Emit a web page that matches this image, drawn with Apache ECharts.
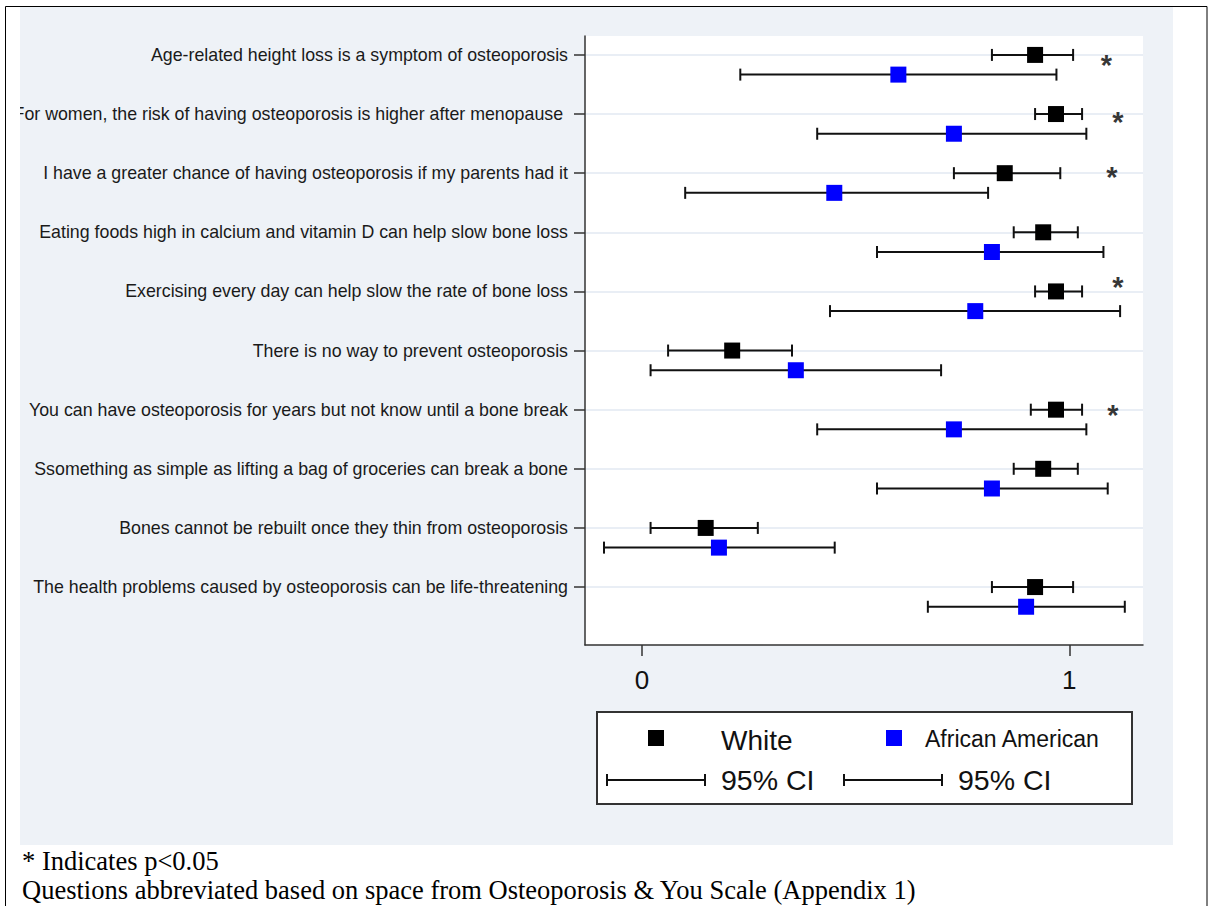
<!DOCTYPE html>
<html>
<head>
<meta charset="utf-8">
<style>
html, body { margin: 0; padding: 0; background: #fff; }
#chart { width: 1209px; height: 906px; }
</style>
<script src="https://cdn.jsdelivr.net/npm/echarts@6/dist/echarts.min.js"></script>
</head>
<body>
<div id="chart"></div>
<script>
// questions, top to bottom
const questions = [
    'Age-related height loss is a symptom of osteoporosis',
    'For women, the risk of having osteoporosis is higher after menopause ',
    'I have a greater chance of having osteoporosis if my parents had it',
    'Eating foods high in calcium and vitamin D can help slow bone loss',
    'Exercising every day can help slow the rate of bone loss',
    'There is no way to prevent osteoporosis',
    'You can have osteoporosis for years but not know until a bone break',
    'Ssomething as simple as lifting a bag of groceries can break a bone',
    'Bones cannot be rebuilt once they thin from osteoporosis',
    'The health problems caused by osteoporosis can be life-threatening'
];

const whiteMean = [0.920, 0.969, 0.849, 0.939, 0.969, 0.211, 0.969, 0.939, 0.149, 0.920];
const whiteLow  = [0.819, 0.920, 0.730, 0.870, 0.920, 0.061, 0.910, 0.870, 0.020, 0.819];
const whiteHigh = [1.009, 1.030, 0.979, 1.020, 1.030, 0.351, 1.030, 1.020, 0.271, 1.009];

const aaMean = [0.600, 0.730, 0.450, 0.819, 0.780, 0.360, 0.730, 0.819, 0.180, 0.899];
const aaLow  = [0.230, 0.410, 0.101, 0.550, 0.440, 0.020, 0.410, 0.550, -0.089, 0.669];
const aaHigh = [0.970, 1.040, 0.810, 1.080, 1.119, 0.700, 1.040, 1.090, 0.451, 1.130];

// rows marked p<0.05
const sigRows = [0, 1, 2, 4, 6];
const sigX = [1.087, 1.114, 1.100, 1.114, 1.102];
const sigY = [0.12, 0.08, 0.01, -0.125, 0.04];

const xTicks = [0, 1];
const rowTicks = questions.map((q, i) => i);

const AA_SHIFT = 0.333;
const sans = 'Liberation Sans, Arial, sans-serif';
const serif = 'Liberation Serif, Times New Roman, serif';

const chart = echarts.init(document.getElementById('chart'), null, { renderer: 'svg' });

const whiteCI = whiteMean.map((m, i) => [whiteLow[i], whiteHigh[i], i]);
const aaCI = aaMean.map((m, i) => [aaLow[i], aaHigh[i], i + AA_SHIFT]);

function ciItem(params, api) {
    const y = api.value(2);
    const a = api.coord([api.value(0), y]);
    const b = api.coord([api.value(1), y]);
    const h = 6;
    const st = { stroke: '#111', lineWidth: 2 };
    return {
        type: 'group',
        children: [
            { type: 'line', shape: { x1: a[0], y1: a[1], x2: b[0], y2: b[1] }, style: st },
            { type: 'line', shape: { x1: a[0], y1: a[1] - h, x2: a[0], y2: a[1] + h }, style: st },
            { type: 'line', shape: { x1: b[0], y1: b[1] - h, x2: b[0], y2: b[1] + h }, style: st }
        ]
    };
}

function ciGlyph(x1, x2, y) {
    const st = { stroke: '#111', lineWidth: 2 };
    return [
        { type: 'line', shape: { x1: x1, y1: y, x2: x2, y2: y }, style: st, z: 11 },
        { type: 'line', shape: { x1: x1, y1: y - 6, x2: x1, y2: y + 6 }, style: st, z: 11 },
        { type: 'line', shape: { x1: x2, y1: y - 6, x2: x2, y2: y + 6 }, style: st, z: 11 }
    ];
}

chart.setOption({
    animation: false,
    backgroundColor: '#fff',
    grid: {
        left: 585, top: 36, width: 558, height: 609,
        show: true, backgroundColor: '#fff', borderWidth: 0
    },
    xAxis: {
        type: 'value',
        min: -0.1335, max: 1.1726,
        axisLine: { show: true, onZero: false, lineStyle: { color: '#333', width: 1.5 } },
        axisTick: { show: true, length: 11, customValues: xTicks, lineStyle: { color: '#333', width: 1.5 } },
        axisLabel: { customValues: xTicks, margin: 22, fontSize: 26, color: '#111', fontFamily: sans },
        splitLine: { show: false }
    },
    yAxis: {
        type: 'value',
        inverse: true,
        min: -0.32, max: 9.98,
        axisLine: { show: true, onZero: false, lineStyle: { color: '#333', width: 1.5 } },
        axisTick: { show: true, length: 11, customValues: rowTicks, lineStyle: { color: '#333', width: 1.5 } },
        axisLabel: {
            customValues: rowTicks,
            margin: 17,
            fontSize: 17.8,
            color: '#1a1a1a',
            fontFamily: sans,
            formatter: v => questions[Math.round(v)] || ''
        },
        splitLine: { show: true, lineStyle: { color: '#e9eef5', width: 2 } }
    },
    series: [
        {
            type: 'custom', renderItem: ciItem, data: whiteCI,
            encode: { x: [0, 1], y: 2 }, z: 2
        },
        {
            type: 'custom', renderItem: ciItem, data: aaCI,
            encode: { x: [0, 1], y: 2 }, z: 2
        },
        {
            type: 'scatter', symbol: 'rect', symbolSize: 16, z: 3,
            itemStyle: { color: '#000', opacity: 1 },
            data: whiteMean.map((m, i) => [m, i])
        },
        {
            type: 'scatter', symbol: 'rect', symbolSize: 16, z: 3,
            itemStyle: { color: '#0000ff', opacity: 1 },
            data: aaMean.map((m, i) => [m, i + AA_SHIFT])
        },
        {
            type: 'scatter', symbolSize: 0, z: 4,
            data: sigRows.map((r, k) => [sigX[k], r + sigY[k]]),
            label: {
                show: true, position: 'inside', offset: [0, 3],
                formatter: '*', fontSize: 29, fontWeight: 'bold', color: '#000', fontFamily: sans
            }
        }
    ],
    graphic: {
        elements: [
            // gray panel behind plot
            { type: 'rect', z: -100, shape: { x: 20, y: 7, width: 1153, height: 838 }, style: { fill: '#eef2f7' }, silent: true },
            // clip left edge of labels
            { type: 'rect', z: 100, shape: { x: 6, y: 7, width: 14, height: 838 }, style: { fill: '#fff' }, silent: true },
            // outer frame
            { type: 'rect', z: 101, shape: { x: 5.5, y: 6.5, width: 1201.5, height: 920 }, style: { fill: 'none', stroke: '#000', lineWidth: 1 }, silent: true },
            // legend box
            { type: 'rect', z: 10, shape: { x: 597, y: 712, width: 535, height: 92 }, style: { fill: '#fff', stroke: '#333', lineWidth: 2 } },
            { type: 'rect', z: 11, shape: { x: 648, y: 730, width: 16, height: 16 }, style: { fill: '#000' } },
            { type: 'text', z: 11, x: 721, y: 740, style: { text: 'White', font: '28px ' + sans, fill: '#111', verticalAlign: 'middle' } },
            { type: 'rect', z: 11, shape: { x: 886, y: 730, width: 16, height: 16 }, style: { fill: '#0000ff' } },
            { type: 'text', z: 11, x: 925, y: 739, style: { text: 'African American', font: '23px ' + sans, fill: '#111', verticalAlign: 'middle' } },
            ...ciGlyph(607, 705, 780),
            { type: 'text', z: 11, x: 721, y: 780, style: { text: '95% CI', font: '28.5px ' + sans, fill: '#111', verticalAlign: 'middle' } },
            ...ciGlyph(844, 942, 780),
            { type: 'text', z: 11, x: 958, y: 780, style: { text: '95% CI', font: '28.5px ' + sans, fill: '#111', verticalAlign: 'middle' } },
            // footnotes
            { type: 'text', z: 11, x: 22, y: 861, style: { text: '* Indicates p<0.05', font: '26.5px ' + serif, fill: '#000', verticalAlign: 'middle' } },
            { type: 'text', z: 11, x: 22, y: 890, style: { text: 'Questions abbreviated based on space from Osteoporosis & You Scale (Appendix 1)', font: '26.5px ' + serif, fill: '#000', verticalAlign: 'middle' } }
        ]
    }
});
</script>
</body>
</html>
